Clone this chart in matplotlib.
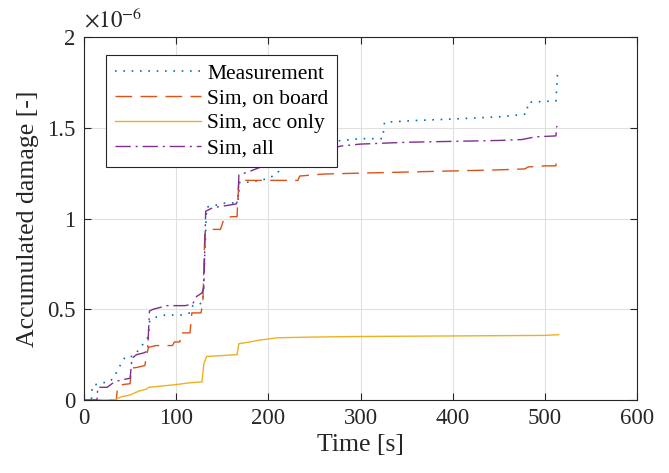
import matplotlib
matplotlib.use("Agg")
import matplotlib.pyplot as plt
from matplotlib.ticker import FormatStrFormatter

plt.rcParams["font.family"] = ["Liberation Serif", "DejaVu Serif"]
plt.rcParams["mathtext.fontset"] = "stix"

# values in units of 1e-6
meas_t = [0, 8, 9, 20, 28, 33, 38, 45, 53, 60, 70, 71, 73, 80, 88, 105, 115, 118,
          129, 131, 133, 140, 153, 160, 167, 169, 180, 200, 210, 225, 240, 280,
          300, 324, 326, 360, 400, 450, 470, 480, 482, 500, 512, 514]
meas_v = [0, 0, 0.08, 0.095, 0.1, 0.13, 0.18, 0.24, 0.24, 0.28, 0.35, 0.43, 0.445,
          0.46, 0.468, 0.468, 0.48, 0.52, 0.535, 0.8, 1.063, 1.07, 1.085, 1.085,
          1.09, 1.2, 1.2, 1.22, 1.25, 1.38, 1.41, 1.43, 1.44, 1.44, 1.53, 1.54,
          1.548, 1.56, 1.57, 1.576, 1.64, 1.645, 1.647, 1.82]

board_t = [0, 35, 36, 38, 42, 50, 51, 52, 58, 66, 68, 70, 78, 96, 98, 104, 105,
           115, 117, 127, 129, 131, 140, 148, 150, 152, 160, 166, 168, 190, 232,
           234, 260, 300, 350, 400, 450, 478, 482, 500, 512, 513]
board_v = [0, 0, 0.05, 0.08, 0.085, 0.09, 0.15, 0.176, 0.18, 0.19, 0.25, 0.29,
           0.3, 0.3, 0.32, 0.32, 0.37, 0.37, 0.48, 0.48, 0.55, 0.91, 0.94, 0.94,
           0.97, 1.0, 1.01, 1.01, 1.21, 1.21, 1.21, 1.234, 1.245, 1.25, 1.256,
           1.262, 1.268, 1.273, 1.284, 1.29, 1.29, 1.345]

acc_t = [0, 33, 40, 50, 60, 68, 70, 90, 100, 115, 128, 130, 133, 150, 166, 168,
         180, 190, 200, 210, 250, 300, 400, 500, 515]
acc_v = [0, 0, 0.017, 0.028, 0.05, 0.06, 0.07, 0.08, 0.085, 0.095, 0.1, 0.2,
         0.24, 0.245, 0.25, 0.31, 0.32, 0.33, 0.336, 0.343, 0.347, 0.35, 0.353,
         0.356, 0.36]

all_t = [0, 14, 15, 25, 33, 40, 50, 52, 57, 65, 69, 71, 75, 90, 110, 118, 122,
         128, 130, 132, 140, 153, 165, 167, 168, 180, 200, 240, 280, 300, 350,
         400, 450, 475, 480, 490, 512, 513]
all_v = [0, 0, 0.07, 0.07, 0.1, 0.11, 0.12, 0.23, 0.25, 0.26, 0.27, 0.49, 0.5,
         0.52, 0.52, 0.53, 0.57, 0.59, 0.62, 1.04, 1.06, 1.07, 1.08, 1.1, 1.24,
         1.26, 1.3, 1.36, 1.4, 1.41, 1.42, 1.425, 1.43, 1.435, 1.44, 1.45, 1.455,
         1.51]

fig = plt.figure(figsize=(6.69, 4.73), dpi=100)
ax = fig.add_axes([0.1256, 0.1543, 0.8266, 0.7675])

ax.plot(meas_t, meas_v, color="#0072BD", lw=1.2, dashes=(1, 4), label="Measurement")
ax.plot(board_t, board_v, color="#D95319", lw=1.0, dashes=(12, 6), label="Sim, on board")
ax.plot(acc_t, acc_v, "-", color="#EDB120", lw=1.0, label="Sim, acc only")
ax.plot(all_t, all_v, color="#7E2F8E", lw=1.0, dashes=(11, 3.5, 1.5, 3.5), label="Sim, all")

ax.set_xlim(0, 600)
ax.set_ylim(0, 2)
ax.set_xticks([0, 100, 200, 300, 400, 500, 600])
ax.set_yticks([0, 0.5, 1, 1.5, 2])
ax.yaxis.set_major_formatter(FormatStrFormatter("%g"))
ax.grid(True, color="#e0e0e0", lw=0.8)
ax.set_axisbelow(True)
ax.tick_params(direction="in", top=True, right=True, length=5, width=0.8,
               labelsize=16.5, colors="#262626", pad=6)
for s in ax.spines.values():
    s.set_color("#262626")
    s.set_linewidth(0.8)

ax.set_xlabel("Time [s]", fontsize=18.5, color="#262626", labelpad=3)
ax.set_ylabel("Accumulated damage [-]", fontsize=18.5, color="#262626", labelpad=6)
ax.text(0.0, 1.012, r"$\times10^{-6}$", transform=ax.transAxes, fontsize=16.5,
        color="#262626", ha="left", va="bottom")

leg = ax.legend(loc="upper left", bbox_to_anchor=(0.04, 0.95), borderaxespad=0,
                fontsize=15.5, handlelength=4.0, handletextpad=0.3, labelspacing=0.22,
                fancybox=False, framealpha=1, edgecolor="#262626", borderpad=0.4)
leg.get_frame().set_linewidth(0.8)

fig.savefig("out.png", dpi=100)
